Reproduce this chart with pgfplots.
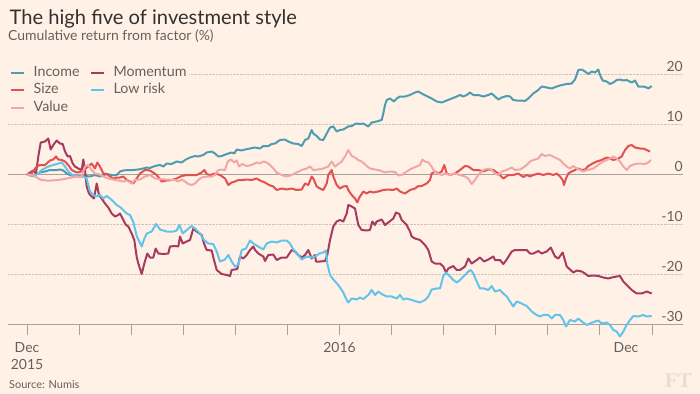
\documentclass[border=0pt]{standalone}
\usepackage{pgfplots}
\pgfplotsset{compat=1.18}
\usepackage{fontspec}
\setmainfont{Lato}
\newfontfamily\ftlogo{Liberation Serif}
\definecolor{bg}{HTML}{FFF1E5}
\definecolor{titlec}{HTML}{33302E}
\definecolor{subc}{HTML}{66605C}
\definecolor{tickc}{HTML}{66605C}
\definecolor{gridc}{HTML}{CEC4BA}
\definecolor{zeroc}{HTML}{A9A29C}
\definecolor{axisc}{HTML}{A9A29C}
\definecolor{logoc}{HTML}{EADCD0}
\definecolor{incomec}{HTML}{4E9CB2}
\definecolor{momc}{HTML}{A63A5F}
\definecolor{sizec}{HTML}{E2504F}
\definecolor{lowc}{HTML}{62C4EA}
\definecolor{valuec}{HTML}{F2A7A6}
\begin{document}
\begin{tikzpicture}
\useasboundingbox (0,0) rectangle (700bp,394bp);
\fill[bg] (0,0) rectangle (700bp,394bp);
\node[anchor=base west, inner sep=0pt, font=\fontsize{20.2}{22}\selectfont, text=titlec] at (9.5bp,369bp) {The high five of investment style};
\node[anchor=base west, inner sep=0pt, font=\fontsize{14}{16}\selectfont, text=subc] at (8bp,353.3bp) {Cumulative return from factor (\%)};
\node[anchor=base west, inner sep=0pt, font=\fontsize{11}{13}\selectfont, text=subc] at (9bp,6bp) {Source: Numis};
\node[anchor=base west, inner sep=0pt, font=\ftlogo\bfseries\fontsize{21}{21}\selectfont, text=logoc] at (665bp,7bp) {FT};
\begin{axis}[
  at={(8bp,69.5bp)}, anchor=south west,
  scale only axis, width=675bp, height=250bp,
  xmin=-19, xmax=656, ymin=-30, ymax=20,
  clip=false,
  axis x line*=bottom, axis y line*=right,
  y axis line style={draw=none},
  x axis line style={draw=axisc, line width=1bp},
  xtick={0,52.083,104.167,156.25,208.333,260.417,312.5,364.583,416.667,468.75,520.833,572.917,625},
  xticklabels={,,,,,,,,,,,,},
  xtick align=outside,
  major tick length=10bp,
  xtick style={draw=axisc, line width=0.9bp},
  extra x ticks={0,312.5,599},
  extra x tick labels={Dec\\2015,2016,Dec},
  extra x tick style={major tick length=0pt, xticklabel style={align=center, anchor=north}},
  xticklabel style={inner sep=0pt, yshift=-18bp, font=\fontsize{14}{16.5}\selectfont, text=tickc},
  ytick={-30,-20,-10,0,10,20},
  yticklabels={-30,-20,-10,0,10,20},
  yticklabel pos=right,
  ytick style={draw=none},
  yticklabel style={anchor=south east, inner sep=0pt, yshift=2.5bp, font=\fontsize{14}{16}\selectfont, text=tickc},
  ymajorgrids, y grid style={densely dotted, gridc, line width=0.8bp},
  extra y ticks={0}, extra y tick labels={},
  extra y tick style={y grid style={solid, zeroc, line width=1bp}},
  legend columns=2,
  legend cell align=left,
  legend image code/.code={\draw[#1, line width=2bp] (0bp,0bp) -- (13bp,0bp);},
  legend style={at={(0,1)}, anchor=north west, xshift=0bp, yshift=11bp, fill=bg, draw=none,
    inner xsep=2bp, inner ysep=2bp, font=\fontsize{14.3}{16}\selectfont, text=tickc, row sep=3.5bp,
    /tikz/every odd column/.append style={column sep=8bp},
    /tikz/every even column/.append style={column sep=10bp},
    nodes={inner sep=0.5bp, text height=10bp, text depth=3bp, anchor=west}},
]
\addplot[incomec, line width=2bp, line join=round] table {
0 0
6.3 -0.3
13 0.4
18 0.6
23 0.9
29.7 0.9
33 1.0
36.3 0.8
39.7 0.2
43 -0.1
48 -0.4
53 -0.3
58 -0.3
63 -0.4
68 -0.1
73 -0.4
79.7 0.1
84.7 -0.1
89.7 -0.1
93 0.6
96.3 0.8
101.3 0.9
106.3 0.9
111.3 1.0
116.3 1.2
119.7 1.4
123 1.3
128 1.7
133 1.9
136.3 1.6
139.7 2.2
144.7 2.1
149.7 2.6
154.7 2.4
158 2.9
163 3.4
168 3.7
171.3 3.6
176.3 3.9
179.7 4.4
184.7 4.6
188 4.2
191.3 3.6
194.7 3.7
199.7 4.1
204.7 4.4
207.3 4.2
209.7 5.0
214.7 4.8
218 5.0
223 5.2
228 5.4
233 5.2
236.3 5.7
241.3 5.7
244.7 6.1
248 6.2
253 6.9
258 7.0
261.3 6.6
266.3 6.2
271.3 6.1
274.7 5.7
278 6.9
281.3 7.2
284.7 8.9
286.3 8.2
289.7 7.7
293 7.0
296.3 6.9
299.7 8.2
303 9.4
306.3 9.6
309.7 8.6
313 8.9
316.3 9.0
321.3 9.6
324.7 9.7
329 10.2
333 10.1
336.3 10.2
341.3 9.6
344.7 10.4
349.7 10.6
354.7 10.9
356.3 12.2
358 13.9
359.7 14.9
363 15.2
367 14.6
369.7 15.2
373 15.6
378 15.6
383 15.9
388 16.4
391.3 16.6
394.7 16.2
399.7 15.7
404.7 15.2
409.7 14.6
414.7 14.4
419.7 14.8
424.7 15.2
429.7 15.6
433 15.9
436.3 15.6
439.7 15.9
443 16.4
446.3 15.9
451.3 15.9
456.3 15.6
461.3 15.9
464.7 16.2
468 15.6
471.3 15.0
474.7 15.4
479.7 15.7
483 15.6
486.3 14.9
489.7 14.8
494.7 14.8
498 14.7
501.3 15.2
506.3 16.2
511.3 16.9
514.7 17.6
519.7 17.4
524.7 17.2
529.7 17.6
534.7 17.9
539.7 18.1
544.7 18.2
548 19.0
551.3 20.9
554.7 21.0
558 20.6
561.3 20.1
564.7 20.6
568 20.4
571.3 21.0
573 19.9
575.7 18.8
579.7 18.6
583 18.1
586.3 18.4
589.7 18.9
593 19.0
596.3 18.8
599.7 18.9
604.7 18.4
608 18.8
611.3 17.6
616.3 17.6
619.7 17.4
621.3 17.2
624.7 17.7
};
\addlegendentry{Income}
\addplot[momc, line width=2bp, line join=round] table {
0 0
6.3 0.8
9 0.2
11.3 3.6
13.7 6.4
18 6.6
21.3 7.2
23.7 5.0
26.3 5.9
29.7 6.8
33 6.2
35.7 6.1
38 4.6
40.7 3.6
43 3.7
45.7 2.2
48 1.6
51.3 1.2
54.7 0.9
56.3 3.0
58 0.9
59.7 -2.4
62 -3.8
64.7 -4.4
67 -4.8
69.7 -1.8
72 -4.1
74.7 -4.8
78 -5.8
81.3 -6.6
84.7 -7.8
88 -8.4
91.3 -8.1
93 -7.8
96.3 -9.1
99 -10.1
101.3 -10.4
104.7 -11.8
107.3 -13.1
109.7 -16.5
111.3 -17.8
114.7 -19.9
117.3 -17.8
120.3 -15.8
123 -16.6
126.3 -16.6
128.7 -14.8
131.3 -15.8
136.3 -15.9
141.3 -15.8
143 -14.4
148 -14.3
151.3 -14.4
153 -12.4
155.7 -13.8
159.7 -13.4
163 -13.1
166.3 -10.8
169.7 -11.4
174.7 -12.1
177 -13.8
179.7 -15.1
184.7 -15.2
187 -17.1
189.7 -19.1
194.7 -19.9
199.7 -20.1
203 -20.3
204.7 -19.1
210.3 -18.9
213 -16.4
216.3 -16.8
219.7 -16.1
223 -15.1
226.3 -14.4
228 -15.1
231.3 -15.8
236.3 -16.4
238 -17.3
241.3 -16.1
246.3 -16.0
249.7 -17.1
254.7 -16.6
259.7 -16.6
264.7 -15.1
268 -15.4
271.3 -16.1
274.7 -16.6
278 -16.1
281.3 -15.1
284.7 -16.8
288 -16.1
289 -17.4
293 -17.4
298 -17.3
300.3 -16.1
303 -13.1
306.3 -10.4
309.7 -9.4
313 -9.1
316.3 -9.4
319.7 -7.8
321.3 -6.1
324.7 -6.4
328 -6.8
331.3 -10.1
334.7 -11.1
339.7 -11.2
343 -11.1
345.3 -9.4
348 -10.1
349.7 -9.4
354.7 -9.0
358 -10.1
361.3 -9.6
366.3 -8.8
369 -7.6
372.3 -7.9
374.7 -9.1
379.7 -10.1
383 -11.4
384.7 -12.4
388 -12.8
393 -13.1
398 -14.1
401.3 -15.1
404.7 -17.4
408 -17.8
413 -17.8
416.3 -18.4
419 -19.6
421.3 -18.8
426.3 -18.3
429.7 -19.1
433 -19.1
438 -18.4
441.3 -16.8
444.7 -17.8
449.7 -17.1
453 -16.6
457 -17.4
461.3 -17.0
466.3 -16.4
468 -17.1
473 -17.1
476.3 -17.9
479.7 -17.0
484.7 -15.4
488 -15.1
494.7 -15.1
499.7 -15.1
503 -15.8
506.3 -15.8
511.3 -15.3
514.7 -15.8
519.7 -15.4
523.7 -14.6
528 -16.4
531.3 -16.8
535.7 -15.6
539.7 -18.4
546.3 -19.6
549.7 -19.2
554.7 -19.4
558 -19.8
561.3 -20.3
566.3 -20.2
571.3 -20.3
576.3 -20.6
581.3 -20.8
584.7 -20.6
589.7 -20.4
593 -20.3
596.3 -21.4
599.7 -22.1
604.7 -23.1
609.7 -23.8
614.7 -23.8
619.7 -23.4
624.7 -23.8
};
\addlegendentry{Momentum}
\addplot[sizec, line width=2bp, line join=round] table {
0 0
4.7 0.2
9.7 1.6
13 1.9
18 1.9
23 2.8
26.3 3.0
29 3.6
31.3 3.0
34.7 2.9
38 2.6
41.3 1.9
44.7 0.9
49.7 0.4
53 0.5
56.3 0.9
61.3 1.6
64.7 2.2
68 1.2
70.3 2.4
73 1.6
76.3 0.2
79.7 0.1
83 -0.4
86.3 -0.8
89.7 -0.6
93 -0.6
96.3 -0.4
99.7 -1.1
103 -1.4
106.3 -1.8
109.7 -0.8
113 0.2
118 0.9
121.3 0.9
124.7 0.6
129.7 -0.1
134.7 -1.4
139.7 -1.2
144.7 -1.1
149.7 -0.8
154.7 -0.3
159.7 -0.1
164.7 -0.1
169.7 -0.1
174.7 0.4
177.3 0.9
179.7 0.1
183 -0.1
188 0.2
193 -0.1
198 -0.8
201.3 -2.1
204.7 -1.6
208 -1.4
211.3 -1.1
216.3 -1.1
219.7 -1.0
224.7 -1.1
229.7 -0.8
233 -1.2
238 -1.6
242 -2.1
246.3 -2.4
249.7 -3.1
254.7 -2.8
259.7 -3.0
264.7 -2.8
269.7 -3.1
274.7 -3.0
278 -1.8
281.3 -2.1
284.7 -0.4
286.3 -0.8
289.7 -2.4
293 -2.8
296.3 -3.1
299.7 -1.8
301.3 -0.1
304.7 0.9
306.3 -0.4
309.7 -2.1
313 -2.8
316.3 -2.4
319.7 -2.3
321.3 -3.1
324.7 -4.1
328 -4.8
330.3 -5.6
332.3 -4.6
336.3 -3.4
339.7 -3.8
343 -3.4
346.3 -3.6
351.3 -3.4
356.3 -3.1
361.3 -3.0
366.3 -3.1
369.7 -2.8
373 -3.4
378 -3.8
383 -3.1
388 -2.8
391.3 -2.3
394.7 -2.3
399.7 -1.8
403 -1.1
404.7 0.2
408 0.6
411.3 0.2
414.7 0.6
417.3 1.9
419.7 0.2
423 -0.1
428 0.2
433 0.9
438 1.7
441.3 1.6
446.3 0.9
451.3 0.9
456.3 0.6
461.3 1.0
466.3 0.9
471.3 0.2
476.3 -0.8
481.3 -0.1
486.3 -0.1
491.3 0.2
496.3 -0.5
499.7 -0.1
503 -0.4
506.3 -0.1
511.3 0.2
516.3 -0.1
521.3 0.2
526.3 -0.1
529.7 0.2
533 -0.4
535.7 -1.1
537 -2.1
539 -0.8
541.3 0.2
544.7 0.6
548 0.9
551.3 1.2
554.7 0.9
558 1.0
561.3 1.7
564.7 2.1
569.7 2.6
574.7 2.9
579.7 3.4
583 3.2
586.3 2.9
591.3 3.2
594.7 3.6
598 4.9
601.3 5.7
604.7 5.9
608 5.4
613 5.2
616.3 5.2
619.7 4.9
623 4.6
};
\addlegendentry{Size}
\addplot[lowc, line width=2bp, line join=round] table {
0 0
6.3 -0.4
11.3 0.2
14.7 0.9
21.3 1.6
26.3 1.9
31.3 2.2
34.7 2.4
38 1.6
41.3 0.6
44.7 0.0
48 -0.3
51.3 -0.4
56.3 -0.4
59.7 -0.8
63 -3.4
66.3 -4.1
69.7 -4.4
73 -4.1
76.3 -4.8
79.7 -4.3
83 -4.8
86.3 -5.4
89.7 -6.1
93 -6.5
96.3 -7.1
99.7 -7.8
103 -8.1
106.3 -9.5
109.7 -12.3
112.3 -13.4
114.7 -14.4
117 -13.0
119.7 -11.8
124.7 -11.4
129 -9.9
133 -11.0
139.7 -11.4
146.3 -11.4
149.7 -11.2
152.3 -10.1
155.7 -11.8
159.7 -11.1
164.7 -10.3
168 -10.8
173 -11.8
177 -13.1
181.3 -13.8
186.3 -13.9
189.7 -15.4
193 -17.4
198 -17.0
201.3 -16.1
204.7 -17.4
208 -18.4
211.3 -18.1
214.7 -15.1
219 -14.8
223 -13.2
226.3 -13.8
231.3 -14.4
236.3 -15.0
239.7 -13.8
244.7 -13.4
249.7 -13.6
254.7 -13.2
259.7 -13.2
263 -13.8
266.3 -15.0
271.3 -16.1
274.7 -17.0
279.7 -16.4
284.7 -16.6
289 -16.3
292.3 -15.8
296.3 -15.6
299 -15.2
300.3 -17.8
303 -20.1
306.3 -21.0
311.3 -22.1
316.3 -23.6
319.7 -25.1
321.3 -25.6
324.7 -24.8
329.7 -25.0
333 -24.6
336.3 -24.9
341.3 -24.1
344.7 -23.1
348 -24.1
351.3 -23.4
354.7 -23.9
359.7 -24.4
364.7 -24.4
369.7 -24.8
373 -24.1
376.3 -25.0
379.7 -24.8
384.7 -25.1
389.7 -25.4
393 -25.6
398 -25.1
401.3 -24.4
404.7 -23.0
409.7 -22.8
413 -22.8
416.3 -20.3
419 -19.6
423 -20.4
426.3 -21.1
429.7 -21.6
433 -21.1
438 -20.1
441.3 -19.4
443.7 -19.1
446.3 -19.8
449.7 -21.4
453 -22.8
457 -22.8
461.3 -23.1
464.7 -22.3
468 -23.4
473 -23.1
476.3 -23.8
479.7 -24.4
483 -25.4
486.3 -26.4
489.7 -25.4
494.7 -25.8
499.7 -26.3
504.7 -27.4
509.7 -28.1
513 -28.4
516.3 -28.1
521.3 -28.1
524.7 -28.8
528 -28.1
533 -28.1
536.3 -29.1
539 -30.4
543 -29.1
548 -29.4
551.3 -28.8
554.7 -29.4
559.7 -30.1
563 -29.8
568 -29.4
571.3 -29.2
574.7 -29.8
579.7 -29.6
583 -30.1
586.3 -31.1
589.7 -31.4
593 -32.4
596.3 -31.4
599 -30.3
603 -29.1
606.3 -28.3
611.3 -28.4
616.3 -28.1
619.7 -28.4
624.7 -28.3
};
\addlegendentry{Low risk}
\addplot[valuec, line width=2bp, line join=round] table {
0 0
6.3 -0.1
11.3 -0.8
14.7 -1.1
19.7 -1.2
24.7 -1.2
29.7 -1.1
34.7 -1.0
39.7 -0.8
44.7 -0.6
49.7 -0.4
54.7 -0.4
58 1.6
61.3 1.9
64.7 0.9
68 0.2
71.3 0.1
76.3 -0.4
81.3 -0.8
86.3 -1.0
91.3 -1.2
96.3 -1.4
99.7 -1.2
104.7 -1.8
108 -1.1
113 -1.0
118 -0.4
123 -0.1
128 -0.8
138 -1.0
148 -1.1
151.3 -1.4
154.7 -1.0
158 -1.4
161.3 -1.9
164.7 -2.1
168 -1.8
171.3 -1.1
174.7 -0.6
179.7 -0.4
184.7 -0.4
188 -0.1
190.7 0.8
194 1.0
198 0.9
200.7 2.6
204 3.0
207.3 2.4
209.7 2.8
212 1.6
215.3 2.1
219.7 1.7
224.7 1.9
229.7 2.4
233 2.2
236.3 2.6
239.7 2.4
243 1.9
246.3 1.2
249.7 0.4
254.7 -0.1
259.7 -0.4
264.7 -0.1
269.7 0.4
274.7 0.9
279.7 1.2
283 1.6
286.3 0.9
291.3 1.0
296.3 1.2
301.3 1.6
304.7 2.6
308 1.6
311.3 2.1
314.7 2.6
318 3.6
321.3 4.9
324.7 3.7
328 3.4
331.3 2.9
334.7 2.6
339.7 1.7
343 1.2
348 1.0
353 0.8
358 0.4
363 0.6
368 0.5
371.3 -0.2
374.7 -0.1
379.7 0.6
384.7 1.2
389.7 1.6
393 1.9
395.3 3.0
398 2.6
401.3 2.4
404.7 1.6
407.3 0.6
410.7 0.2
414.7 -0.1
418 0.2
423 -0.1
428 0.2
433 -0.1
438 -0.4
441.3 -0.8
444.7 -1.9
448 -1.1
451.3 -0.1
456.3 0.9
461.3 1.2
464.7 0.9
468 0.2
471.3 -0.1
474.7 0.6
479.7 0.9
484.7 1.4
488 0.9
493 1.0
496.3 1.4
499.7 1.9
503 2.6
506.3 2.9
511.3 3.2
514.7 4.1
518 3.7
523 3.9
528 3.4
533 2.9
536.3 2.2
539.7 1.6
543 1.2
546.3 1.7
549.7 1.2
553 0.9
556.3 0.6
559.7 0.9
563 1.0
566.3 1.2
569.7 1.7
573 2.2
576.3 2.6
579.7 2.9
583 3.2
586.3 3.6
589.7 3.2
593 2.6
596.3 1.6
599.7 0.9
603 1.7
608 2.1
613 2.2
618 2.1
621.3 2.4
624 2.9
};
\addlegendentry{Value}
\end{axis}
\end{tikzpicture}
\end{document}
